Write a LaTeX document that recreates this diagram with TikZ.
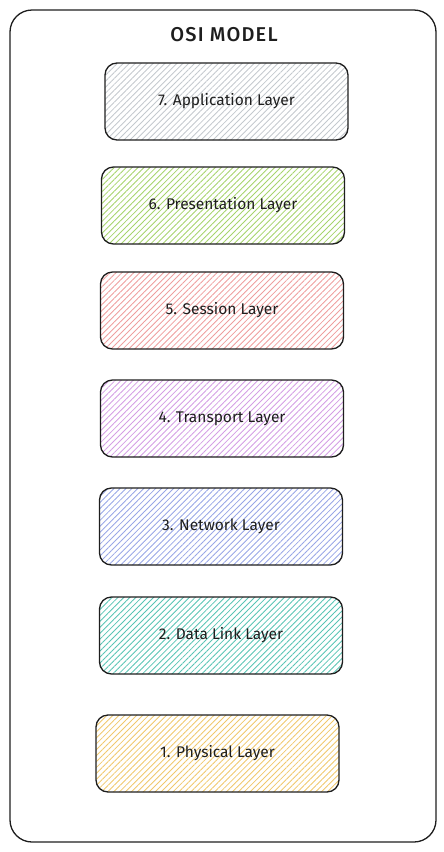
\documentclass[tikz,border=0pt]{standalone}
\usepackage{fontspec}
\setmainfont{Fira Sans}
\newfontfamily\titlefont[LetterSpace=6]{Fira Sans Medium}
\usetikzlibrary{patterns.meta}
\definecolor{ink}{HTML}{1E1E1E}
\definecolor{cgray}{HTML}{C4C9CE}
\definecolor{cgreen}{HTML}{A6D46C}
\definecolor{cred}{HTML}{EE9E9E}
\definecolor{cpurple}{HTML}{D49EE4}
\definecolor{cblue}{HTML}{98A6E6}
\definecolor{cteal}{HTML}{58C4B4}
\definecolor{cyellow}{HTML}{F0C86C}
\tikzset{
  layer/.style={draw=ink, line width=1.3pt, rounded corners=12pt,
    minimum width=243pt, minimum height=77pt, inner sep=0pt,
    font=\fontsize{15.5}{18}\selectfont, text=ink,
    pattern={Lines[angle=45, distance=4.2pt, line width=0.85pt]}, pattern color=#1},
  frame/.style={draw=ink, line width=1.3pt, rounded corners=22pt},
  title/.style={font=\titlefont\fontsize{20}{24}\selectfont, text=ink}
}
\begin{document}
\begin{tikzpicture}[x=1pt,y=-1pt]
\useasboundingbox (0,0) rectangle (444,852);
\draw[frame] (10,10) rectangle (436,842);
\node[title] (title) at (224,35) {OSI MODEL};
\node[layer=cgray] (l7) at (226.5,101.5) {7. Application Layer};
\node[layer=cgreen] (l6) at (223,205.5) {6. Presentation Layer};
\node[layer=cred] (l5) at (222,310.5) {5. Session Layer};
\node[layer=cpurple] (l4) at (222,418.5) {4. Transport Layer};
\node[layer=cblue] (l3) at (221,526.5) {3. Network Layer};
\node[layer=cteal] (l2) at (221,635.5) {2. Data Link Layer};
\node[layer=cyellow] (l1) at (217.5,753.5) {1. Physical Layer};
\end{tikzpicture}
\end{document}
